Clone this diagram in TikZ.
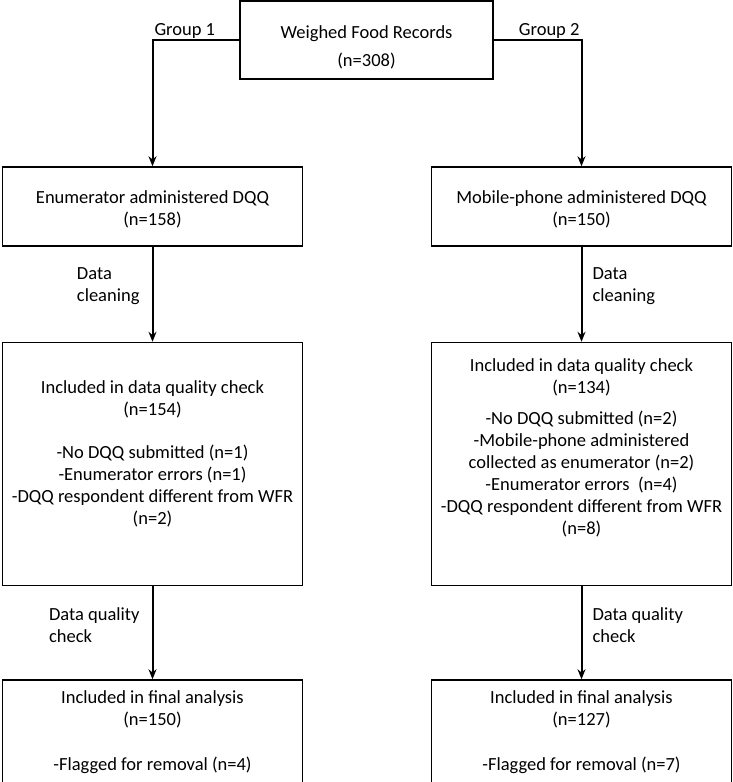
\documentclass[tikz,border=0pt]{standalone}
\usepackage{fontspec}
\setmainfont{Carlito}
\usetikzlibrary{positioning, arrows.meta}
\tikzset{
>={Stealth[length=10pt, width=8pt]}, % makes the arrow heads bold
box/.style={draw, line width=1.5pt, minimum width=300pt, align=center, inner sep=4pt}, % sets the properties for each box
flow/.style={->, line width=2pt}, % the connecting arrows
note/.style={align=left, inner sep=0pt}, % the text next to an arrow
}

\begin{document}
\begin{tikzpicture}[font=\fontsize{18.5}{22}\selectfont]
    \useasboundingbox (0pt,0pt) rectangle (733pt,-782pt);
    % top of the chart
    \node[box, minimum width=253pt, minimum height=78pt] (wfr) at (366.5pt,-40pt) {\rule{0pt}{27pt}Weighed Food Records\\[6pt](n=308)};
    % group 1
    \node[box, minimum height=79pt] (enumL) at (152.5pt,-206.5pt) {\rule{0pt}{18pt}Enumerator administered DQQ\\(n=158)};
    \node[box, minimum height=243pt, below=95pt of enumL] (checkL) {Included in data quality check\\(n=154)\\[21pt]-No DQQ submitted (n=1)\\-Enumerator errors (n=1)\\-DQQ respondent different from WFR\\(n=2)\\ ~};
    \node[box, minimum height=104pt, below=93pt of checkL] (finalL) {Included in final analysis\\(n=150)\\[23pt]-Flagged for removal (n=4)};
    % group 2
    \node[box, minimum height=79pt] (mobileR) at (581.5pt,-206.5pt) {\rule{0pt}{18pt}Mobile-phone administered DQQ\\(n=150)};
    \node[box, minimum height=243pt, below=95pt of mobileR] (checkR) {Included in data quality check\\(n=134)\\[9pt]-No DQQ submitted (n=2)\\-Mobile-phone administered\\collected as enumerator (n=2)\\-Enumerator errors~ (n=4)\\-DQQ respondent different from WFR\\(n=8)\\[12pt] ~};
    \node[box, minimum height=104pt, below=93pt of checkR] (finalR) {Included in final analysis\\(n=127)\\[23pt]-Flagged for removal (n=7)};
    \draw[flow]
    (wfr.west) -| node[pos=0.5, above right, inner sep=1pt]{Group 1} (enumL.north);
    \draw[flow]
    (wfr.east) -| node[pos=0.5, above left, inner sep=1pt]{Group 2} (mobileR.north);
    \draw[flow] (enumL) -- node[pos=0.42, left=12pt, note]{Data\\cleaning} (checkL);
    \draw[flow] (checkL) -- node[pos=0.42, left=12pt, note]{Data quality\\check} (finalL);
    \draw[flow] (mobileR) -- node[pos=0.42, right=10pt, note]{Data\\cleaning} (checkR);
    \draw[flow] (checkR) -- node[pos=0.42, right=10pt, note]{Data quality\\check} (finalR);
\end{tikzpicture}
\end{document}
